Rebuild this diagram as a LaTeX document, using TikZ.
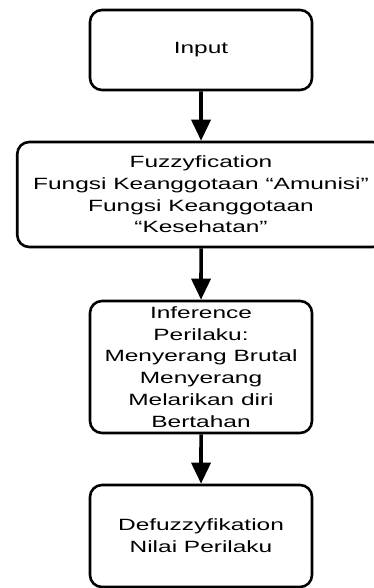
\documentclass[tikz,border=0pt]{standalone}
\usepackage{fontspec}
\setmainfont{Liberation Sans}
\usetikzlibrary{arrows.meta, positioning}

\begin{document}
\begin{tikzpicture}[
  x=1pt, y=1pt, xscale=1.5,
  box/.style={
    draw, rounded corners=12pt, transform shape, align=center,
    font=\fontsize{16.3}{21.7}\selectfont, line width=2.6pt
  },
  arrow/.style={-{Triangle[length=21pt, width=19pt]}, line width=3.6pt}
]
  \useasboundingbox (0,0) rectangle (249.33,-588);

  % Boxes
  \node[box, minimum width=148pt, minimum height=80pt] (input)
    at (134,-50) {Input};
  \node[box, minimum width=245pt, minimum height=105pt] (fuzzy)
    at (134,-194.5) {Fuzzyfication\\Fungsi Keanggotaan “Amunisi”\\Fungsi Keanggotaan\\“Kesehatan”};
  \node[box, minimum width=148pt, minimum height=132pt] (infer)
    at (134,-367) {Inference\\Perilaku:\\Menyerang Brutal\\Menyerang\\Melarikan diri\\Bertahan};
  \node[box, minimum width=148pt, minimum height=102pt] (defuzzy)
    at (134,-536) {Defuzzyfikation\\Nilai Perilaku};

  % Arrows between steps
  \draw[arrow] (input) -- (fuzzy);
  \draw[arrow] (fuzzy) -- (infer);
  \draw[arrow] (infer) -- (defuzzy);
\end{tikzpicture}
\end{document}
